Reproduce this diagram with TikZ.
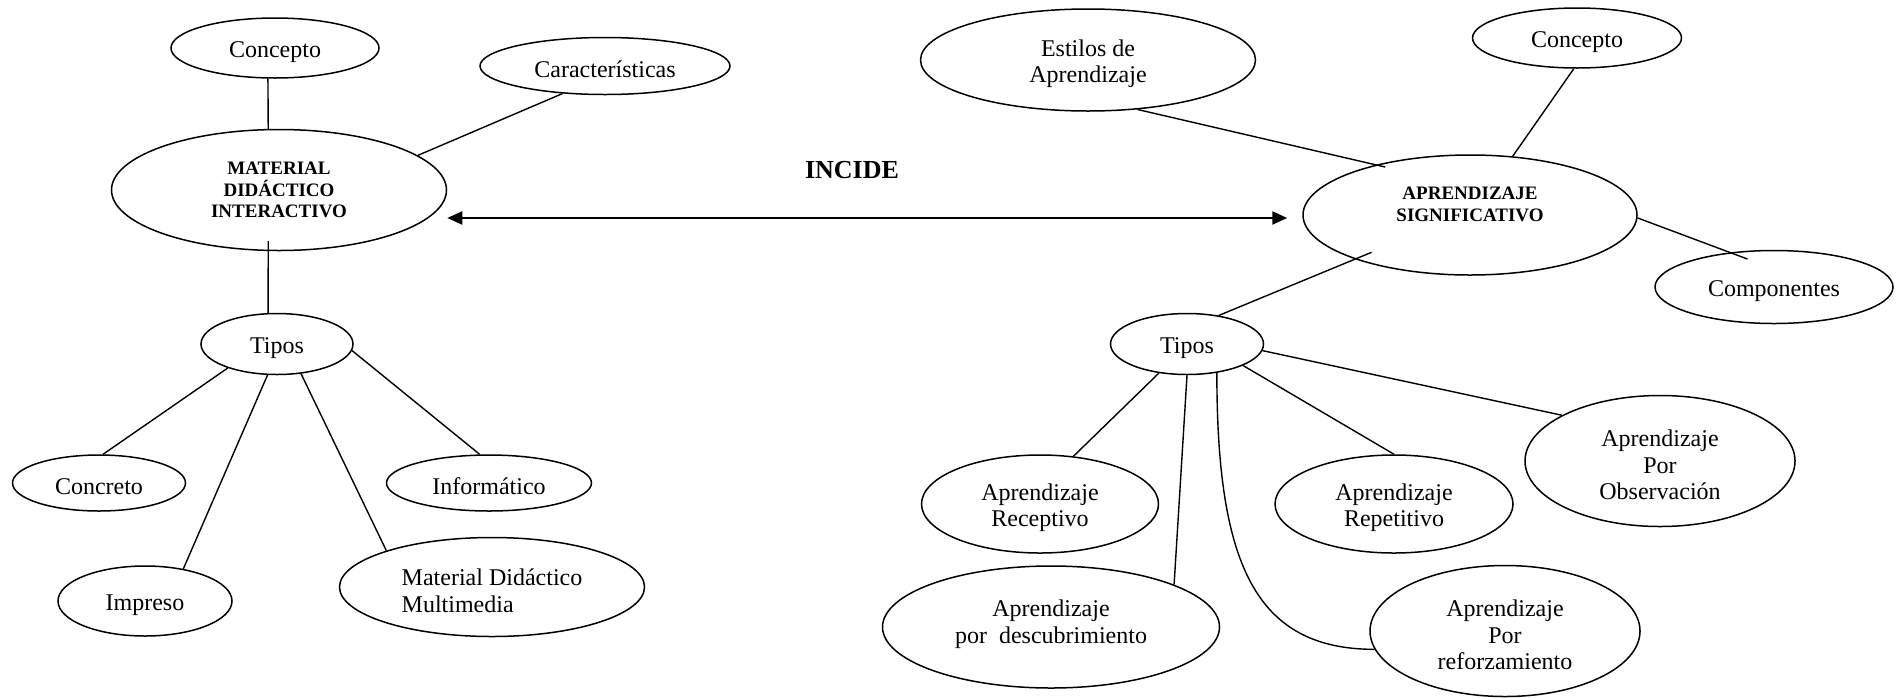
\documentclass[tikz,border=0pt]{standalone}
\usepackage{fontspec}
\setmainfont{Liberation Serif}
\usetikzlibrary{shapes.geometric,arrows.meta,calc}
\tikzset{
	bubble/.style={ellipse, draw=black, line width=0.75pt, inner sep=0pt, align=center},
	idea/.style={bubble, text height=#1, font=\fontsize{12}{13.3}\selectfont},
	idea/.default=12pt,
	core/.style={bubble, font=\fontsize{9.5}{10.9}\selectfont\bfseries},
	link/.style={line width=0.7pt},
	incarr/.style={{Triangle[length=7.5pt,width=6.5pt]}-{Triangle[length=7.5pt,width=6.5pt]}, line width=1.1pt}
}

\begin{document}
\begin{tikzpicture}[x=0.5pt,y=-0.5pt]
	\useasboundingbox (0,0) rectangle (1899,697);
	% material didactico interactivo
	\node[core, minimum width=167.5pt, minimum height=60.5pt] (mat) at (279,190) {MATERIAL\\DIDÁCTICO\\INTERACTIVO};
	\node[idea, minimum width=104pt, minimum height=30pt] (conL) at (275,48) {Concepto};
	\node[idea, minimum width=125pt, minimum height=28.5pt] (car) at (605,66) {Características};
	\node[idea, minimum width=76pt, minimum height=30.5pt] (tipL) at (277,344) {Tipos};
	\node[idea, minimum width=86.5pt, minimum height=28pt] (conc) at (99,483) {Concreto};
	\node[idea, minimum width=87pt, minimum height=35pt] (impr) at (145,601) {Impreso};
	\node[idea, minimum width=102.5pt, minimum height=28pt] (info) at (489,483) {Informático};
	\node[idea=25.5pt, align=left, minimum width=152.5pt, minimum height=49.5pt] (mult) at (492,587) {Material Didáctico\\Multimedia};
	\draw[link] (conL.-103) -- (mat.100);
	\draw[link] (car.-147) -- (mat.14);
	\draw[link, shorten <=-5pt] (mat.-100) -- (tipL.106);
	\draw[link] (tipL.-154) -- (conc.82);
	\draw[link] (tipL.-107) -- (impr.40);
	\draw[link] (tipL.-51) -- (mult.161);
	\draw[link] (tipL.-5) -- (info.108);
	% aprendizaje significativo
	\node[core, text depth=11pt, minimum width=167pt, minimum height=60pt] (aprend) at (1470,215) {APRENDIZAJE\\SIGNIFICATIVO};
	\node[idea=25.5pt, minimum width=167.5pt, minimum height=51pt] (estl) at (1088,60) {Estilos de\\Aprendizaje};
	\node[idea, minimum width=104.5pt, minimum height=30pt] (conR) at (1577,38) {Concepto};
	\node[idea, minimum width=119pt, minimum height=36.5pt] (comp) at (1774,287) {Componentes};
	\node[idea, minimum width=76.5pt, minimum height=30.5pt] (tipR) at (1187,344) {Tipos};
	\node[idea=25.5pt, minimum width=118.5pt, minimum height=49pt] (recp) at (1040,504) {Aprendizaje\\Receptivo};
	\node[idea=25.5pt, text depth=9.5pt, minimum width=168.5pt, minimum height=61pt] (desc) at (1051,627) {Aprendizaje\\por\ \ descubrimiento};
	\node[idea=25.5pt, minimum width=119pt, minimum height=49pt] (rept) at (1394,504) {Aprendizaje\\Repetitivo};
	\node[idea=38.8pt, minimum width=135pt, minimum height=65.5pt] (obsv) at (1660,461) {Aprendizaje\\Por\\Observación};
	\node[idea=38.8pt, minimum width=135pt, minimum height=65.5pt] (refz) at (1505,631) {Aprendizaje\\Por\\reforzamiento};
	\draw[link, shorten >=-5pt] (estl.-45) -- (aprend.152.6);
	\draw[link] (conR.-96) -- (aprend.54);
	\draw[link, shorten >=-9.5pt] (aprend.-1) -- (comp.142);
	\draw[link, shorten <=-9pt] (aprend.-159.8) -- (tipR.42);
	\draw[link] (tipR.-134) -- (recp.55);
	\draw[link] (tipR.-90) -- (desc.19);
	\draw[link] (tipR.-44) .. controls +(0,190) and +(-120,0) .. (refz.-172);
	\draw[link] (tipR.-21) -- (rept.90);
	\draw[link] (tipR.-5) -- (obsv.155);
	% relacion
	\node[font=\fontsize{13}{15}\selectfont\bfseries] (incide) at (852,170) {INCIDE};
	\draw[incarr] ([yshift=-14pt]mat.east) -- ([xshift=-7.5pt,yshift=-1.5pt]aprend.west);
\end{tikzpicture}
\end{document}
